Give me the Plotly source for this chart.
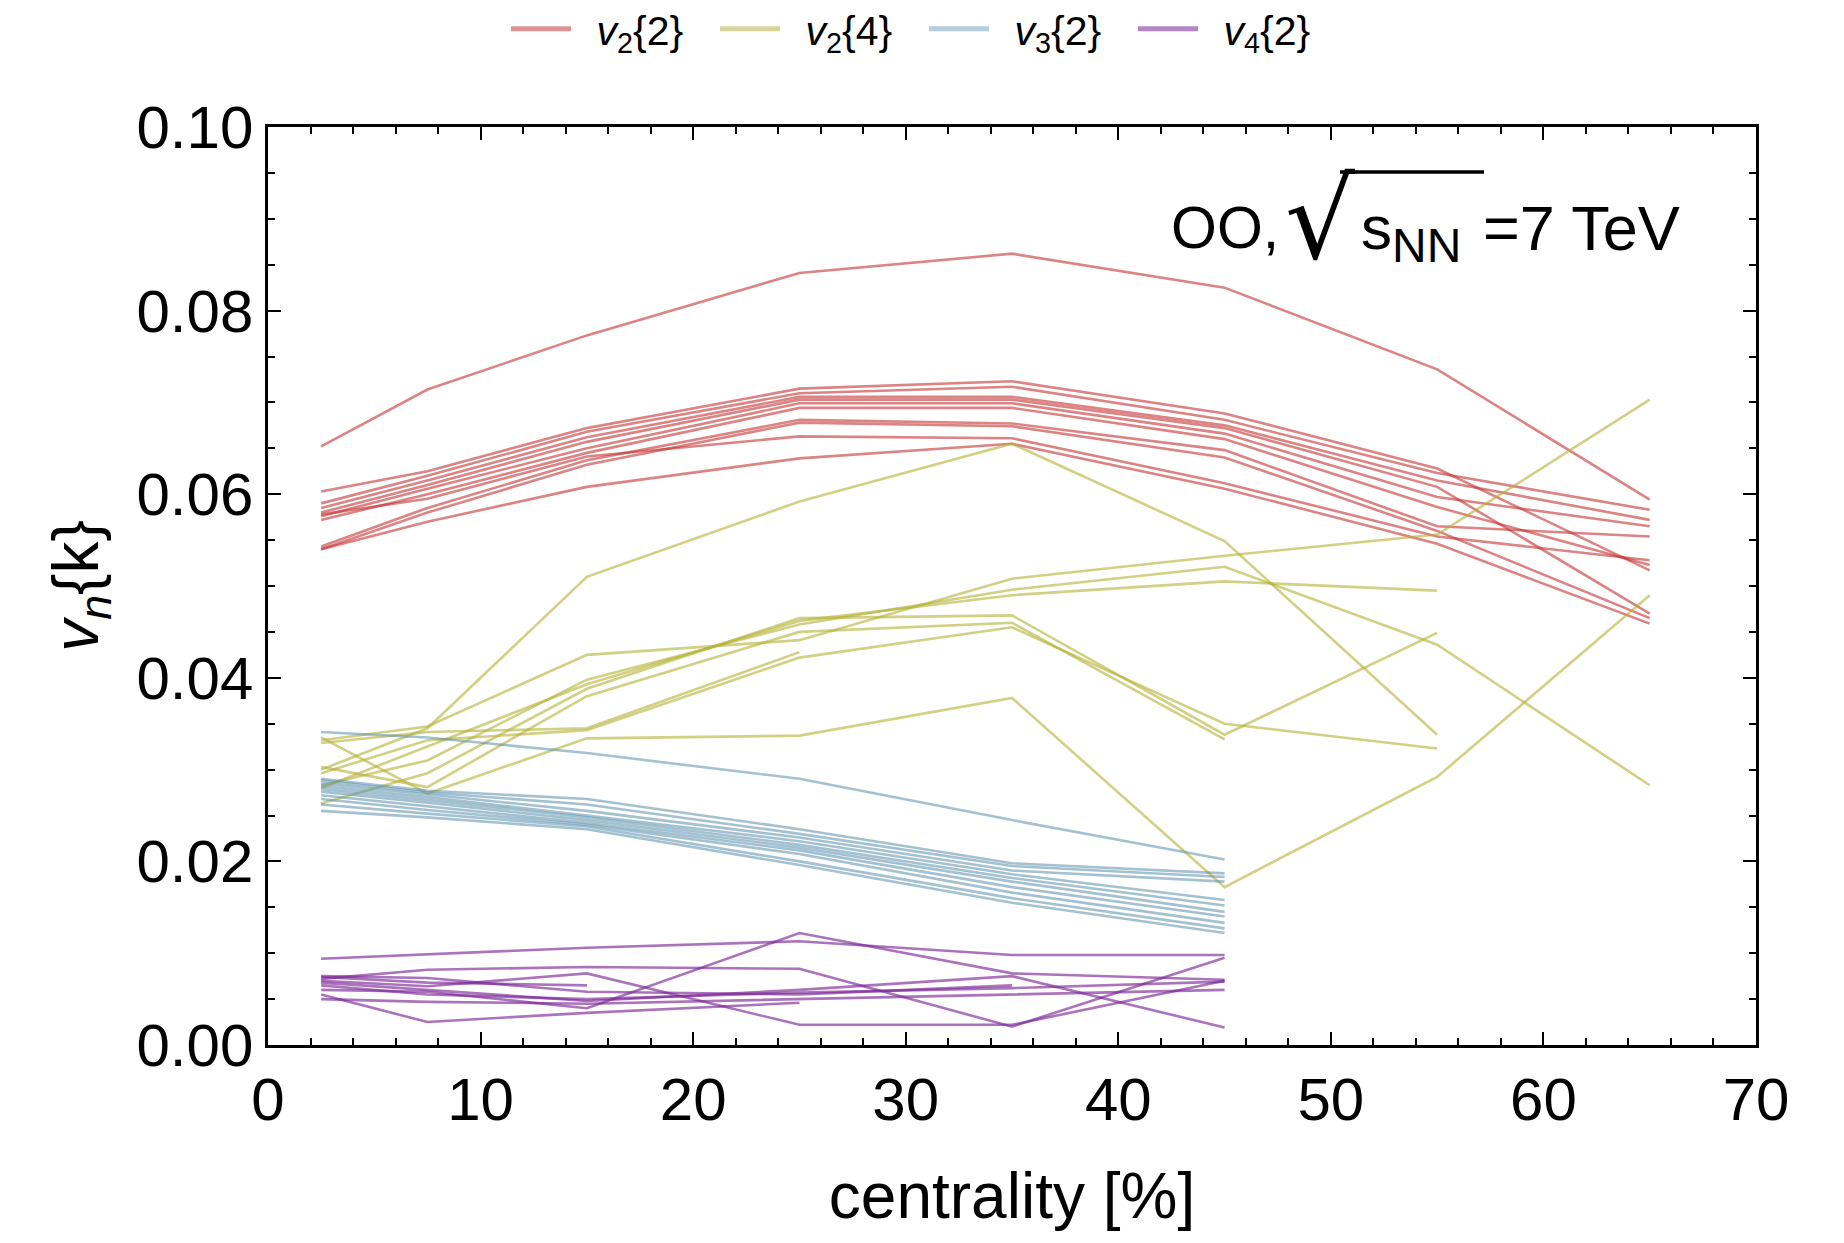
import plotly.graph_objects as go

# Centrality bin centres [%]
centrality = [2.5, 7.5, 15, 25, 35, 45, 55, 65]

# v2{2}: one row per parameter set
v22_runs = [
    [0.0652, 0.0714, 0.0773, 0.0841, 0.0862, 0.0825, 0.0736, 0.0594],
    [0.0603, 0.0625, 0.0672, 0.0715, 0.0723, 0.0688, 0.0628, 0.0517],
    [0.0590, 0.0620, 0.0668, 0.0710, 0.0717, 0.0681, 0.0623, 0.0583],
    [0.0585, 0.0615, 0.0662, 0.0706, 0.0706, 0.0675, 0.0615, 0.0572],
    [0.0580, 0.0610, 0.0657, 0.0703, 0.0703, 0.0672, 0.0608, 0.0470],
    [0.0576, 0.0606, 0.0650, 0.0699, 0.0699, 0.0666, 0.0597, 0.0565],
    [0.0572, 0.0600, 0.0645, 0.0694, 0.0694, 0.0660, 0.0586, 0.0523],
    [0.0543, 0.0585, 0.0637, 0.0681, 0.0677, 0.0648, 0.0565, 0.0554],
    [0.0540, 0.0580, 0.0632, 0.0678, 0.0674, 0.0640, 0.0560, 0.0465],
    [0.0578, 0.0595, 0.0641, 0.0663, 0.0661, 0.0612, 0.0554, 0.0528],
    [0.0540, 0.0570, 0.0608, 0.0639, 0.0655, 0.0606, 0.0546, 0.0459],
]

# v2{4}: None where the cumulant is not defined
v24_runs = [
    [0.0300, 0.0345, 0.0510, 0.0592, 0.0655, 0.0549, 0.0338, None],
    [0.0332, 0.0347, 0.0425, 0.0441, 0.0508, 0.0533, 0.0556, 0.0703],
    [0.0335, 0.0274, 0.0334, 0.0337, 0.0378, 0.0172, 0.0292, 0.0490],
    [0.0296, 0.0332, 0.0343, 0.0422, 0.0455, 0.0350, 0.0323, None],
    [0.0283, 0.0310, 0.0398, 0.0458, 0.0496, 0.0521, 0.0436, 0.0283],
    [0.0280, 0.0325, 0.0393, 0.0462, 0.0490, 0.0505, 0.0495, None],
    [0.0263, 0.0296, 0.0388, 0.0465, 0.0468, 0.0338, 0.0449, None],
    [0.0303, 0.0281, 0.0380, 0.0450, 0.0460, 0.0333, None, None],
    [0.0329, 0.0341, 0.0345, 0.0428, None, None, None, None],
]

# v3{2}
v32_runs = [
    [0.0341, 0.0335, 0.0318, 0.0290, 0.0245, 0.0202, None, None],
    [0.0290, 0.0277, 0.0268, 0.0235, 0.0198, 0.0187, None, None],
    [0.0288, 0.0275, 0.0262, 0.0230, 0.0195, 0.0183, None, None],
    [0.0285, 0.0273, 0.0255, 0.0226, 0.0190, 0.0178, None, None],
    [0.0282, 0.0270, 0.0250, 0.0222, 0.0186, 0.0158, None, None],
    [0.0279, 0.0267, 0.0248, 0.0218, 0.0182, 0.0152, None, None],
    [0.0276, 0.0264, 0.0245, 0.0215, 0.0178, 0.0145, None, None],
    [0.0272, 0.0260, 0.0242, 0.0212, 0.0172, 0.0140, None, None],
    [0.0268, 0.0256, 0.0240, 0.0208, 0.0166, 0.0133, None, None],
    [0.0262, 0.0252, 0.0238, 0.0200, 0.0160, 0.0127, None, None],
    [0.0255, 0.0248, 0.0235, 0.0196, 0.0155, 0.0122, None, None],
]

# v4{2}
v42_runs = [
    [0.0094, 0.0099, 0.0106, 0.0113, 0.0098, 0.0098, None, None],
    [0.0060, 0.0058, 0.0040, 0.0122, 0.0078, 0.0071, None, None],
    [0.0072, 0.0082, 0.0085, 0.0083, 0.0020, 0.0095, None, None],
    [0.0055, 0.0025, 0.0035, 0.0046, None, None, None, None],
    [0.0074, 0.0068, 0.0065, None, None, None, None, None],
    [0.0070, 0.0064, 0.0078, 0.0022, 0.0022, 0.0070, None, None],
    [0.0068, 0.0060, 0.0048, 0.0060, 0.0075, 0.0019, None, None],
    [0.0065, 0.0055, 0.0050, 0.0057, 0.0062, 0.0069, None, None],
    [0.0050, 0.0047, 0.0045, 0.0050, 0.0055, 0.0060, None, None],
    [0.0075, 0.0073, 0.0058, 0.0055, 0.0065, None, None, None],
]

series = [
    ("<i>v</i><sub>2</sub>{2}", v22_runs, "rgba(196,50,50,0.6)", "rgba(214,120,120,0.8)"),
    ("<i>v</i><sub>2</sub>{4}", v24_runs, "rgba(180,176,50,0.6)", "rgba(205,203,130,0.8)"),
    ("<i>v</i><sub>3</sub>{2}", v32_runs, "rgba(88,142,172,0.55)", "rgba(160,195,212,0.8)"),
    ("<i>v</i><sub>4</sub>{2}", v42_runs, "rgba(124,40,152,0.65)", "rgba(165,110,190,0.85)"),
]

FONT = "Liberation Sans, Arial, Helvetica, sans-serif"

fig = go.Figure()
for name, runs, color, legend_color in series:
    for run in runs:
        fig.add_trace(go.Scatter(
            x=centrality, y=run, mode="lines",
            line=dict(color=color, width=2.6),
            connectgaps=False, showlegend=False, legendgroup=name,
            hoverinfo="skip",
        ))
    # legend key for the group
    fig.add_trace(go.Scatter(
        x=[None], y=[None], mode="lines", name="\u2002" + name, legendgroup=name,
        line=dict(color=legend_color, width=5), showlegend=True,
    ))

axis_common = dict(
    showline=True, linewidth=2.5, linecolor="black", mirror="allticks",
    ticks="inside", ticklen=13, tickwidth=2, tickcolor="black",
    showgrid=False, zeroline=False,
    tickfont=dict(family=FONT, size=60, color="black"),
)

fig.update_xaxes(
    range=[0, 70], dtick=10, tick0=0,
    minor=dict(dtick=2, ticks="inside", ticklen=7, tickwidth=1.5, tickcolor="black"),
    title=dict(text="centrality [%]", font=dict(family=FONT, size=64, color="black"), standoff=42),
    **axis_common,
)
fig.update_yaxes(
    range=[0, 0.1], dtick=0.02, tick0=0, tickformat=".2f",
    minor=dict(dtick=0.005, ticks="inside", ticklen=7, tickwidth=1.5, tickcolor="black"),
    title=dict(text="<i>v</i><sub><i>n</i></sub>{k}", font=dict(family=FONT, size=64, color="black"), standoff=18),
    **axis_common,
)

# Collision-system label: OO, sqrt(s_NN) = 7 TeV
PX0, PX1, PY0, PY1 = 268, 1756, 127, 1045


def px(x):
    return (x - PX0) / (PX1 - PX0)


def py(y):
    return (PY1 - y) / (PY1 - PY0)


fig.add_annotation(
    xref="paper", yref="paper", x=px(1170), y=py(228), xanchor="left", yanchor="middle",
    text="OO,", showarrow=False, borderpad=0, font=dict(family=FONT, size=59, color="black"),
)
fig.add_annotation(
    xref="paper", yref="paper", x=px(1284), y=py(220), xanchor="left", yanchor="middle",
    text="√", showarrow=False, borderpad=0, font=dict(family="DejaVu Sans", size=110, color="black"),
)
fig.add_annotation(
    xref="paper", yref="paper", x=px(1360), y=py(232), xanchor="left", yanchor="middle",
    text="s<sub><span style='font-size:48px'>NN</span></sub>", showarrow=False, borderpad=0,
    font=dict(family=FONT, size=62, color="black"),
)
fig.add_annotation(
    xref="paper", yref="paper", x=px(1482), y=py(228), xanchor="left", yanchor="middle",
    text="=7 TeV", showarrow=False, borderpad=0, font=dict(family=FONT, size=63, color="black"),
)
fig.add_shape(
    type="line", xref="paper", yref="paper",
    x0=px(1340), x1=px(1484), y0=py(172), y1=py(172),
    line=dict(color="black", width=3.5),
)

fig.update_layout(
    width=1844, height=1243,
    margin=dict(l=PX0, r=1844 - PX1, t=PY0, b=1243 - PY1),
    paper_bgcolor="white", plot_bgcolor="white",
    legend=dict(
        orientation="h", xref="container", yref="container",
        x=506 / 1844, xanchor="left", y=1 - 29 / 1243, yanchor="middle",
        font=dict(family=FONT, size=41, color="black"),
        itemwidth=60, entrywidth=134, bgcolor="rgba(0,0,0,0)",
    ),
)

fig.write_html("out.html")
